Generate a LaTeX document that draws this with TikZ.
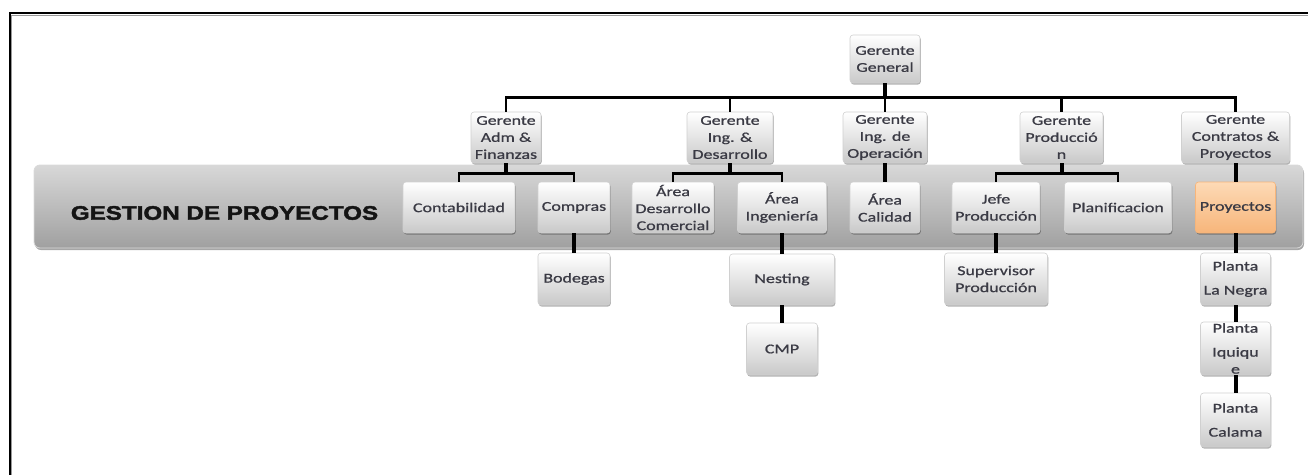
\documentclass[tikz,border=0pt]{standalone}
\usepackage{fontspec}
\newfontfamily\boxfont[FakeStretch=1.33,FakeBold=0.9]{Carlito}
\newfontfamily\titlefont[UprightFont=* Bold,FakeStretch=1.24,FakeBold=2.2]{Liberation Sans}
\usetikzlibrary{shadows}
\definecolor{txt}{HTML}{3A3A44}
\definecolor{boxbot}{HTML}{C9C9C9}
\definecolor{boxedge}{HTML}{D0D0D0}
\definecolor{orgtop}{HTML}{FDDAB6}
\definecolor{orgbot}{HTML}{F7B57A}
\definecolor{bandtop}{HTML}{D8D8D8}
\definecolor{bandbot}{HTML}{A0A0A0}
\begin{document}
\begin{tikzpicture}[x=1pt,y=-1pt,
  box/.style={rectangle, rounded corners=3pt, top color=white, bottom color=boxbot,
    draw=boxedge, line width=0.6pt,
    drop shadow={shadow xshift=0.8pt, shadow yshift=-1.6pt, opacity=0.3, fill=black},
    align=center, font=\boxfont\fontsize{13.5}{17}\selectfont, text=txt,
    inner sep=0pt, anchor=center},
  orgbox/.style={box, top color=orgtop, bottom color=orgbot, draw=orgbot},
  band/.style={rectangle, rounded corners=6pt, top color=bandtop, bottom color=bandbot,
    draw=white!85!black, line width=0.8pt,
    drop shadow={shadow xshift=1pt, shadow yshift=-2pt, opacity=0.35, fill=black},
    inner sep=0pt, anchor=center},
  conn/.style={line width=2.7pt, black},
  stub/.style={line width=4pt, black},
  frameline/.style={line width=2pt, black},
]
\useasboundingbox (0,0) rectangle (1308,474);
% frame (top and left edges visible)
\draw[black!40, line width=1pt] (11.5,476) -- (11.5,15) -- (1310,15);
\draw[frameline] (10,476) -- (10,13) -- (1310,13);

% band
\node[band, minimum width=1269pt, minimum height=83pt] (band) at (668.5,206.5) {};
\node[font=\titlefont\fontsize{19.5}{22}\selectfont, text=black!92, inner sep=0pt] (title) at (224.5,213) {GESTION DE PROYECTOS};

% level 1
\node[box, minimum width=70pt, minimum height=48pt] (gg) at (885,59) {Gerente\\General};
% level 2
\node[box, minimum width=70pt, minimum height=51pt] (adm) at (506,137.5) {Gerente\\Adm \&\\Finanzas};
\node[box, minimum width=86pt, minimum height=51pt] (ingdes) at (730,137.5) {Gerente\\Ing. \&\\Desarrollo};
\node[box, minimum width=84pt, minimum height=51pt] (ingop) at (885,137.5) {Gerente\\Ing. de\\Operación};
\node[box, minimum width=83pt, minimum height=51pt] (gprod) at (1061.5,137.5) {Gerente\\Producció\\n};
\node[box, minimum width=108pt, minimum height=51pt] (gcont) at (1235.5,137.5) {Gerente\\Contratos \&\\Proyectos};
% level 3
\node[box, minimum width=112pt, minimum height=51pt] (cont) at (459,207.5) {Contabilidad};
\node[box, minimum width=72pt, minimum height=51pt] (compras) at (574,207.5) {Compras};
\node[box, minimum width=82pt, minimum height=51pt] (adc) at (673,207.5) {Área\\Desarrollo\\Comercial};
\node[box, minimum width=89pt, minimum height=51pt] (aing) at (782,207.5) {Área\\Ingeniería};
\node[box, minimum width=70pt, minimum height=51pt] (acal) at (885,207.5) {Área\\Calidad};
\node[box, minimum width=88pt, minimum height=51pt] (jefe) at (996,207.5) {Jefe\\Producción};
\node[box, minimum width=107pt, minimum height=51pt] (plan) at (1118,207.5) {Planificacion};
\node[orgbox, minimum width=80pt, minimum height=51pt] (proy) at (1235.5,207.5) {Proyectos};
% level 4
\node[box, minimum width=72pt, minimum height=52pt] (bod) at (574,279) {Bodegas};
\node[box, minimum width=105pt, minimum height=51pt] (nest) at (782,279.5) {Nesting};
\node[box, minimum width=71pt, minimum height=52pt] (cmp) at (782,349) {CMP};
\node[box, minimum width=103pt, minimum height=52pt] (sup) at (996,279) {Supervisor\\Producción};
\node[box, minimum width=70pt, minimum height=52pt] (pln) at (1235.5,279) {Planta\\[7pt]La Negra};
\node[box, minimum width=70pt, minimum height=53pt] (pli) at (1235.5,348.5) {Planta\\[7pt]Iquiqu\\e};
\node[box, minimum width=70pt, minimum height=54pt] (plc) at (1235.5,420) {Planta\\[7pt]Calama};

% connectors level 1 -> 2
\draw[stub] (gg.south) -- ++(0,14) coordinate (bus1);
\foreach \c in {adm,ingdes,ingop,gprod,gcont}
  \draw[conn] (bus1) -| (\c.north);
% level 2 -> 3
\draw[stub] (adm.south) -- ++(0,10) coordinate (bus2);
\draw[conn] (bus2) -| (cont.north);
\draw[conn] (bus2) -| (compras.north);
\draw[stub] (ingdes.south) -- ++(0,10) coordinate (bus3);
\draw[conn] (bus3) -| (adc.north);
\draw[conn] (bus3) -| (aing.north);
\draw[stub] (ingop.south) -- (acal.north);
\draw[stub] (gprod.south) -- ++(0,10) coordinate (bus4);
\draw[conn] (bus4) -| (jefe.north);
\draw[conn] (bus4) -| (plan.north);
\draw[stub] (gcont.south) -- (proy.north);
% level 3 -> 4 and below
\draw[stub] (compras.south) -- (bod.north);
\draw[stub] (aing.south) -- (nest.north);
\draw[stub] (nest.south) -- (cmp.north);
\draw[stub] (jefe.south) -- (sup.north);
\draw[stub] (proy.south) -- (pln.north);
\draw[stub] (pln.south) -- (pli.north);
\draw[stub] (pli.south) -- (plc.north);
\end{tikzpicture}
\end{document}
